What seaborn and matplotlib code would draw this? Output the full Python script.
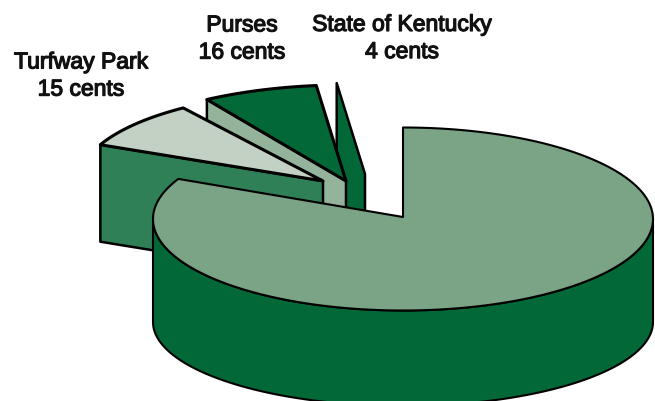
import numpy as np
import seaborn as sns
import matplotlib.pyplot as plt
import matplotlib.patheffects as pe

# slices as they are drawn in the picture (degrees clockwise from 12 o'clock)
slice_names = ['Rest', 'Turfway Park', 'Purses', 'State of Kentucky']
slice_degrees = [294, 34, 25.5, 6.5]
label_names = ['Turfway Park', 'Purses', 'State of Kentucky']
label_cents = [15, 16, 4]

sns.set_theme(style='white')
plt.rcParams['font.family'] = ['Liberation Sans Narrow', 'Liberation Sans', 'DejaVu Sans']

top_colors = sns.color_palette(['#7ba385', '#c2d1c4', '#036837', '#036837'])
wall_colors = sns.color_palette(['#036837', '#2f7f57', '#94b39b', '#036837'])

# layout in pixels
RX, RY = 250, 91.5
big_center = (403, 220)
big_vertex = (403, 218)
rim_center = (403, 323)
RIM_RY = 84
tips = [big_vertex, (323, 182), (346, 182), (365, 175)]
scales = [1.0, 0.975, 1.05, 1.0]
depths = [0, 97, 100, 100]
end_trim = [-2, 3, 0, 0]

fig = plt.figure(figsize=(6.55, 4.02), dpi=100)
ax = fig.add_axes([0, 0, 1, 1])
ax.set_xlim(0, 655)
ax.set_ylim(402, 0)
ax.axis('off')


def arc(center, scale, a0, a1, ry=RY):
    t = np.radians(np.linspace(a0, a1, 200))
    return center[0] + RX * scale * np.sin(t), center[1] - ry * scale * np.cos(t)


def shape(xs, ys, color, z, lw=1.8):
    ax.fill(xs, ys, facecolor=color, edgecolor='black', linewidth=lw, joinstyle='round', zorder=z)


ends = np.cumsum(slice_degrees)
starts = ends - np.array(slice_degrees)

# small slices back to front, each with its cut wall at the start angle
for i in [3, 2, 1]:
    tip = tips[i]
    z = (4 - i) * 2
    ox, oy = arc(tip, scales[i], starts[i], starts[i])
    ox, oy = ox[0], oy[0]
    d = depths[i]
    shape([tip[0], ox, ox, tip[0]], [tip[1], oy, oy + d, tip[1] + d], wall_colors[i], z)
    if i != 3:  # Kentucky shows only its wall
        sx, sy = arc(tip, scales[i], starts[i], ends[i] - end_trim[i])
        shape(np.r_[tip[0], sx], np.r_[tip[1], sy], top_colors[i], z + 1, lw=2.2)

# big slice: rim then top face
tx, ty = arc(big_center, 1.0, 90, 270)
bx, by = arc(rim_center, 1.0, 90, 270, ry=RIM_RY)
shape(np.r_[tx, bx[::-1]], np.r_[ty, by[::-1]], wall_colors[0], 20, lw=1.5)
tx, ty = arc(big_center, 1.0, starts[0], ends[0] - end_trim[0])
shape(np.r_[big_vertex[0], tx], np.r_[big_vertex[1], ty], top_colors[0], 21, lw=1.5)

label_xy = [(81, 76.5), (242, 39.5), (402, 39)]
for name, cents, (x, y) in zip(label_names, label_cents, label_xy):
    ax.text(x, y, f'{name}\n{cents} cents', ha='center', va='center', fontsize=16.5,
            color='#111111', linespacing=1.23,
            path_effects=[pe.withStroke(linewidth=0.9, foreground='#111111')])

fig.savefig('out.png', dpi=100)
